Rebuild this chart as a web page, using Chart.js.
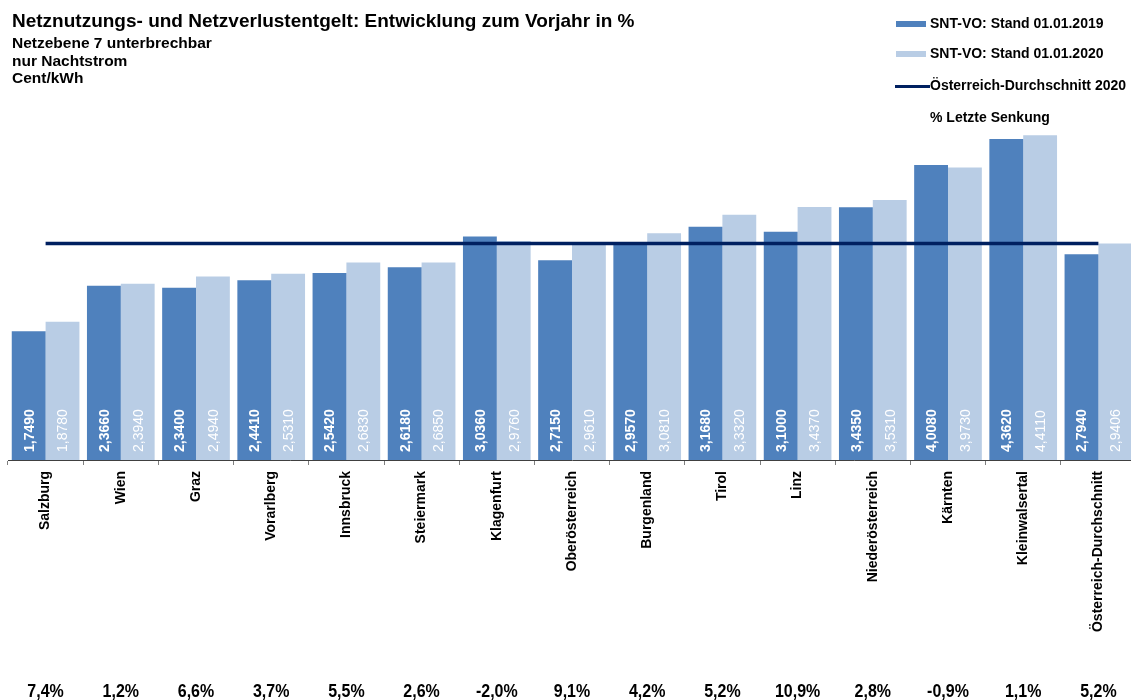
<!DOCTYPE html>
<html>
<head>
<meta charset="utf-8">
<script src="https://cdn.jsdelivr.net/npm/chart.js@4"></script>
<style>
    html, body { margin: 0; background: #fff; overflow: hidden; font-family: "Liberation Sans", Arial, sans-serif; }
    #wrap { position: relative; width: 1131px; height: 700px; overflow: hidden; }
    #title { position: absolute; left: 12px; top: 10px; font-weight: bold; font-size: 19px; color: #000; white-space: nowrap; }
    #subtitle { position: absolute; left: 12px; top: 34px; font-weight: bold; font-size: 15.5px; line-height: 17.5px; color: #000; }
    .leg { position: absolute; left: 895px; height: 16px; font-weight: bold; font-size: 14px; color: #000; white-space: nowrap; }
    .leg span.sw { position: absolute; top: 50%; }
    .leg span.tx { position: absolute; left: 35px; top: -1px; }
</style>
</head>
<body>
<div id="wrap">
    <canvas id="chart" width="1136" height="700"></canvas>
    <div id="title">Netznutzungs- und Netzverlustentgelt: Entwicklung zum Vorjahr in %</div>
    <div id="subtitle">Netzebene 7 unterbrechbar<br>nur Nachtstrom<br>Cent/kWh</div>
    <div class="leg" style="top:16px"><span class="sw" style="left:1px;width:30px;height:6px;margin-top:-3px;background:#4f81bd"></span><span class="tx">SNT-VO: Stand 01.01.2019</span></div>
    <div class="leg" style="top:46px"><span class="sw" style="left:1px;width:30px;height:6px;margin-top:-3px;background:#b9cde5"></span><span class="tx">SNT-VO: Stand 01.01.2020</span></div>
    <div class="leg" style="top:78px"><span class="sw" style="left:0;width:35px;height:3px;margin-top:-1px;background:#002060"></span><span class="tx">Österreich-Durchschnitt 2020</span></div>
    <div class="leg" style="top:110px"><span class="tx">% Letzte Senkung</span></div>
</div>
<script>
const categories = ['Salzburg', 'Wien', 'Graz', 'Vorarlberg', 'Innsbruck', 'Steiermark', 'Klagenfurt',
    'Oberösterreich', 'Burgenland', 'Tirol', 'Linz', 'Niederösterreich', 'Kärnten', 'Kleinwalsertal',
    'Österreich-Durchschnitt'];
const stand2019 = [1.7490, 2.3660, 2.3400, 2.4410, 2.5420, 2.6180, 3.0360, 2.7150, 2.9570, 3.1680,
    3.1000, 3.4350, 4.0080, 4.3620, 2.7940];
const stand2020 = [1.8780, 2.3940, 2.4940, 2.5310, 2.6830, 2.6850, 2.9760, 2.9610, 3.0810, 3.3320,
    3.4370, 3.5310, 3.9730, 4.4110, 2.9406];
const avg2020 = 2.9406;
const lastChange = ['7,4%', '1,2%', '6,6%', '3,7%', '5,5%', '2,6%', '-2,0%', '9,1%', '4,2%', '5,2%',
    '10,9%', '2,8%', '-0,9%', '1,1%', '5,2%'];

const fmt = v => v.toFixed(4).replace('.', ',');

// values written vertically inside the bars
const barLabels = {
    id: 'barLabels',
    afterDatasetsDraw(chart) {
        const ctx = chart.ctx;
        [0, 1].forEach(di => {
            const meta = chart.getDatasetMeta(di);
            const ds = chart.data.datasets[di];
            meta.data.forEach((bar, i) => {
                ctx.save();
                ctx.translate(bar.x, bar.base - 8);
                ctx.rotate(-Math.PI / 2);
                ctx.fillStyle = '#fff';
                ctx.font = (di === 0 ? 'bold ' : '') + '14px "Liberation Sans", Arial';
                ctx.textAlign = 'left';
                ctx.textBaseline = 'middle';
                ctx.fillText(fmt(ds.data[i]), 0, 1);
                ctx.restore();
            });
        });
    }
};

// percentages along the bottom
const bottomRow = {
    id: 'bottomRow',
    afterDraw(chart) {
        const ctx = chart.ctx;
        const x = chart.scales.x;
        ctx.save();
        ctx.fillStyle = '#000';
        ctx.font = 'bold 16px "Liberation Sans", Arial';
        ctx.textAlign = 'center';
        ctx.textBaseline = 'alphabetic';
        lastChange.forEach((t, i) => {
            ctx.save();
            ctx.translate(x.getPixelForValue(i), 697);
            ctx.scale(1, 1.15);
            ctx.fillText(t, 0, 0);
            ctx.restore();
        });
        ctx.restore();
    }
};

new Chart(document.getElementById('chart'), {
    data: {
        labels: categories,
        datasets: [
            {
                type: 'bar',
                label: 'SNT-VO: Stand 01.01.2019',
                data: stand2019,
                backgroundColor: '#4f81bd',
                categoryPercentage: 0.9,
                barPercentage: 1.0,
                order: 1
            },
            {
                type: 'bar',
                label: 'SNT-VO: Stand 01.01.2020',
                data: stand2020,
                backgroundColor: '#b9cde5',
                categoryPercentage: 0.9,
                barPercentage: 1.0,
                order: 1
            },
            {
                type: 'line',
                label: 'Österreich-Durchschnitt 2020',
                data: categories.map(() => avg2020),
                borderColor: '#002060',
                borderWidth: 3.5,
                pointRadius: 0,
                fill: false,
                order: 0
            }
        ]
    },
    options: {
        responsive: false,
        animation: false,
        layout: { padding: { left: 8, right: 0, top: 92, bottom: 40 } },
        plugins: {
            legend: { display: false },
            tooltip: { enabled: false }
        },
        scales: {
            x: {
                offset: true,
                grid: {
                    offset: true,
                    drawOnChartArea: false,
                    tickLength: 5,
                    color: '#7f7f7f'
                },
                border: { color: '#404040', width: 1 },
                ticks: {
                    autoSkip: false,
                    minRotation: 90,
                    maxRotation: 90,
                    padding: 6,
                    color: '#000',
                    font: { family: '"Liberation Sans", Arial', size: 14, weight: 'bold' }
                },
                afterFit(scale) { scale.height = 200; }
            },
            y: {
                display: false,
                min: 0,
                max: 5
            }
        }
    },
    plugins: [barLabels, bottomRow]
});
</script>
</body>
</html>
